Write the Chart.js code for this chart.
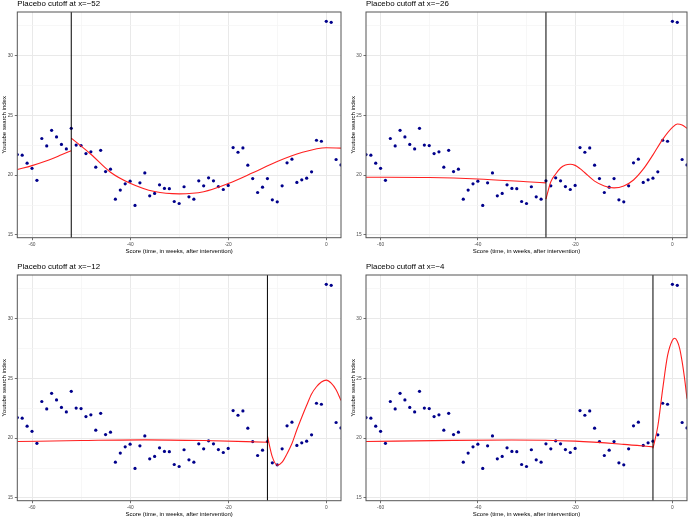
<!DOCTYPE html>
<html>
<head>
<meta charset="utf-8">
<script src="https://cdn.jsdelivr.net/npm/chart.js@4.4.1/dist/chart.umd.min.js"></script>
<style>
  html, body { margin: 0; padding: 0; background: #fff; overflow: hidden; }
  body { width: 691px; height: 518px; position: relative; }
  canvas { position: absolute; }
</style>
</head>
<body>
<canvas id="panel1" width="345" height="258" style="left:0;top:0"></canvas>
<canvas id="panel2" width="342" height="258" style="left:349px;top:0"></canvas>
<canvas id="panel3" width="345" height="258" style="left:0;top:263px"></canvas>
<canvas id="panel4" width="342" height="258" style="left:349px;top:263px"></canvas>
<script>
// weekly data points (same in all four panels)
const weeks = [-63, -62, -61, -60, -59, -58, -57, -56, -55, -54, -53, -52, -51, -50, -49, -48, -47, -46, -45, -44,
    -43, -42, -41, -40, -39, -38, -37, -36, -35, -34, -33, -32, -31, -30, -29, -28, -27, -26, -25, -24,
    -23, -22, -21, -20, -19, -18, -17, -16, -15, -14, -13, -12, -11, -10, -9, -8, -7, -6, -5, -4,
    -3, -2, -1, 0, 1, 2, 3];
const searchIndex = [21.72, 21.67, 21.0, 20.57, 19.57, 23.07, 22.45, 23.75, 23.2, 22.57, 22.2, 23.92, 22.52, 22.48, 21.81, 21.95, 20.67, 22.08, 20.3, 20.5,
    17.99, 18.75, 19.28, 19.5, 17.47, 19.36, 20.19, 18.27, 18.47, 19.19, 18.89, 18.87, 17.8, 17.63, 19.03, 18.19, 17.99, 19.53, 19.11, 19.78,
    19.53, 19.05, 18.8, 19.14, 22.31, 21.92, 22.28, 20.84, 19.72, 18.55, 19.0, 19.72, 17.94, 17.77, 19.11, 21.03, 21.34, 19.39, 19.61, 19.75,
    20.28, 22.92, 22.84, 32.87, 32.79, 21.31, 20.86];

const cutoffs = [-52, -26, -12, -4];

const xTicks = [-60, -50, -40, -30, -20, -10, 0];
const xTickLabels = ['-60', '', '-40', '', '-20', '', '0'];
const yTicks = [15, 17.5, 20, 22.5, 25, 27.5, 30, 32.5];
const yTickLabels = ['15', '', '20', '', '25', '', '30', ''];

// fitted curves (left / right of each cutoff)
const fit52LeftX = [-63, -60, -57, -54, -52];
const fit52LeftY = [20.47, 20.8, 21.2, 21.7, 22.05];
const fit52RightX = [-52, -48, -44, -40, -35, -30, -25, -20, -15, -10, -5, 0, 3];
const fit52RightY = [23.1, 21.75, 20.25, 19.33, 18.63, 18.44, 18.62, 19.3, 20.2, 21.15, 21.9, 22.3, 22.26];

const fit26LeftX = [-63, -50, -40, -30, -26];
const fit26LeftY = [19.83, 19.8, 19.68, 19.45, 19.36];
const fit26RightX = [-26, -25, -24, -23, -22, -21, -20, -19, -18, -16, -14, -12, -10, -8, -6, -4, -2, 0, 1, 2, 3];
const fit26RightY = [18.0, 19.45, 20.1, 20.6, 20.85, 20.92, 20.82, 20.55, 20.2, 19.5, 19.1, 18.94, 19.1, 19.6, 20.5, 21.7, 23.0, 24.0, 24.28, 24.2, 23.92];

const fit12LeftX = [-63, -50, -37, -25, -12];
const fit12LeftY = [19.72, 19.8, 19.86, 19.8, 19.66];
const fit12RightX = [-12, -11, -10, -9, -8, -7, -6, -5, -4, -3, -2, -1, 0, 1, 2, 3];
const fit12RightY = [20.17, 18.43, 17.74, 18.0, 18.7, 19.55, 20.7, 21.75, 22.75, 23.7, 24.3, 24.7, 24.86, 24.6, 24.05, 23.15];

const fit4LeftX = [-63, -45, -33, -20, -10, -4];
const fit4LeftY = [19.72, 19.82, 19.85, 19.75, 19.48, 19.27];
const fit4RightX = [-4, -3, -2, -1, 0, 0.5, 1, 1.5, 2, 2.5, 3];
const fit4RightY = [19.14, 21.0, 24.1, 26.9, 28.2, 28.36, 28.1, 27.5, 26.4, 25.0, 23.3];

const FONT = '"Liberation Sans", Arial, Helvetica, sans-serif';

function toPoints(xs, ys) {
    return xs.map((x, i) => ({ x: x, y: ys[i] }));
}

// titre, cadre et ligne de coupure
const panelDecor = {
    id: 'panelDecor',
    beforeDraw(chart) {
        const ctx = chart.ctx;
        ctx.save();
        ctx.fillStyle = '#fff';
        ctx.fillRect(0, 0, chart.width, chart.height);
        ctx.restore();
    },
    afterDatasetsDraw(chart, args, opts) {
        const { ctx, chartArea: a } = chart;
        const px = chart.scales.x.getPixelForValue(opts.cutoff);
        ctx.save();
        ctx.strokeStyle = '#000';
        ctx.lineWidth = 1;
        ctx.beginPath();
        ctx.moveTo(px, a.top);
        ctx.lineTo(px, a.bottom);
        ctx.stroke();
        ctx.strokeStyle = '#555';
        ctx.lineWidth = 1;
        ctx.strokeRect(a.left, a.top, a.right - a.left, a.bottom - a.top);
        ctx.fillStyle = '#000';
        ctx.font = '7.9px ' + FONT;
        ctx.textBaseline = 'middle';
        ctx.textAlign = 'left';
        ctx.fillText(opts.title, a.left, a.top - 8.3);
        ctx.restore();
    }
};

function makePanel(id, cutoff, leftX, leftY, rightX, rightY, axisWidth, padRight) {
    const el = document.getElementById(id);
    return new Chart(el.getContext('2d'), {
        type: 'scatter',
        data: {
            datasets: [
                {
                    type: 'line',
                    data: toPoints(leftX, leftY),
                    borderColor: '#ff2020',
                    borderWidth: 1.1,
                    pointRadius: 0,
                    showLine: true,
                    cubicInterpolationMode: 'monotone',
                    clip: 0
                },
                {
                    type: 'line',
                    data: toPoints(rightX, rightY),
                    borderColor: '#ff2020',
                    borderWidth: 1.1,
                    pointRadius: 0,
                    showLine: true,
                    cubicInterpolationMode: 'monotone',
                    clip: 0
                },
                {
                    data: toPoints(weeks, searchIndex),
                    backgroundColor: '#00008b',
                    borderWidth: 0,
                    pointRadius: 1.6,
                    clip: 0
                }
            ]
        },
        options: {
            responsive: false,
            animation: false,
            events: [],
            layout: { padding: { top: 12, right: padRight, left: 0, bottom: 0 } },
            plugins: {
                legend: { display: false },
                tooltip: { enabled: false },
                panelDecor: { cutoff: cutoff, title: 'Placebo cutoff at x=\u2212' + Math.abs(cutoff) }
            },
            scales: {
                x: {
                    type: 'linear',
                    min: -63,
                    max: 3,
                    afterBuildTicks: s => { s.ticks = xTicks.map(v => ({ value: v })); },
                    afterFit: s => { s.height = 20.3; s.paddingLeft = 0; s.paddingRight = 0; },
                    border: { display: false },
                    grid: {
                        color: c => xTickLabels[c.index] ? '#e9e9e9' : '#f4f4f4',
                        lineWidth: c => xTickLabels[c.index] ? 1 : 0.7,
                        tickLength: 2.5,
                        tickWidth: 0.7,
                        tickColor: c => xTickLabels[c.index] ? '#333' : 'rgba(0,0,0,0)'
                    },
                    ticks: {
                        callback: (v, i) => xTickLabels[i],
                        autoSkip: false,
                        maxRotation: 0,
                        padding: 1.1,
                        color: '#4d4d4d',
                        font: { size: 4.8, family: FONT }
                    },
                    title: {
                        display: true,
                        text: 'Score (time, in weeks, after intervention)',
                        color: '#000',
                        font: { size: 6, family: FONT },
                        padding: { top: 0, bottom: 3.4 }
                    }
                },
                y: {
                    type: 'linear',
                    min: 14.77,
                    max: 33.65,
                    afterBuildTicks: s => { s.ticks = yTicks.map(v => ({ value: v })); },
                    afterFit: s => { s.width = axisWidth; s.paddingTop = 0; s.paddingBottom = 0; },
                    border: { display: false },
                    grid: {
                        color: c => yTickLabels[c.index] ? '#e9e9e9' : '#f4f4f4',
                        lineWidth: c => yTickLabels[c.index] ? 1 : 0.7,
                        tickLength: 2.5,
                        tickWidth: 0.7,
                        tickColor: c => yTickLabels[c.index] ? '#333' : 'rgba(0,0,0,0)'
                    },
                    ticks: {
                        callback: (v, i) => yTickLabels[i],
                        autoSkip: false,
                        padding: 1.8,
                        color: '#4d4d4d',
                        font: { size: 4.8, family: FONT }
                    },
                    title: {
                        display: true,
                        text: 'Youtube search index',
                        color: '#000',
                        font: { size: 6, family: FONT },
                        padding: { top: 1, bottom: 0 }
                    }
                }
            }
        },
        plugins: [panelDecor]
    });
}

makePanel('panel1', cutoffs[0], fit52LeftX, fit52LeftY, fit52RightX, fit52RightY, 17.3, 2.7);
makePanel('panel2', cutoffs[1], fit26LeftX, fit26LeftY, fit26RightX, fit26RightY, 17, 0.3);
makePanel('panel3', cutoffs[2], fit12LeftX, fit12LeftY, fit12RightX, fit12RightY, 17.3, 2.7);
makePanel('panel4', cutoffs[3], fit4LeftX, fit4LeftY, fit4RightX, fit4RightY, 17, 0.3);
</script>
</body>
</html>
